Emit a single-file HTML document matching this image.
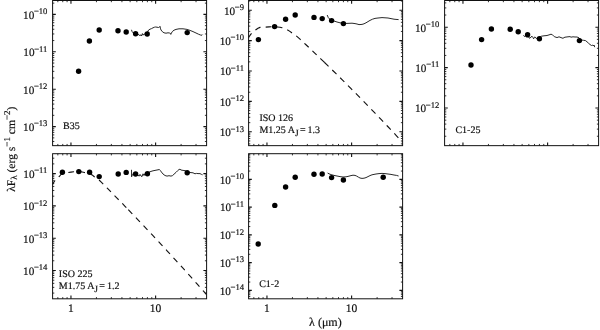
<!DOCTYPE html>
<html><head><meta charset="utf-8"><title>SED plots</title>
<style>text{stroke:#111;stroke-width:0.18px}html,body{margin:0;padding:0;background:#fff}body{width:600px;height:330px;position:relative;overflow:hidden}</style>
</head><body>
<svg width="600" height="330" viewBox="0 0 600 330" style="position:absolute;left:0;top:0;font-family:'Liberation Serif',serif;text-rendering:geometricPrecision" fill="#111">
<rect x="52.6" y="0.5" width="154" height="145.15" fill="none" stroke="#111" stroke-width="1"/>
<path d="M52.6 3.14h1.7M206.6 3.14h-1.7M52.6 40.54h1.7M206.6 40.54h-1.7M52.6 33.96h1.7M206.6 33.96h-1.7M52.6 29.28h1.7M206.6 29.28h-1.7M52.6 25.66h1.7M206.6 25.66h-1.7M52.6 22.7h1.7M206.6 22.7h-1.7M52.6 20.19h1.7M206.6 20.19h-1.7M52.6 18.02h1.7M206.6 18.02h-1.7M52.6 16.11h1.7M206.6 16.11h-1.7M52.6 77.94h1.7M206.6 77.94h-1.7M52.6 71.36h1.7M206.6 71.36h-1.7M52.6 66.68h1.7M206.6 66.68h-1.7M52.6 63.06h1.7M206.6 63.06h-1.7M52.6 60.1h1.7M206.6 60.1h-1.7M52.6 57.59h1.7M206.6 57.59h-1.7M52.6 55.42h1.7M206.6 55.42h-1.7M52.6 53.51h1.7M206.6 53.51h-1.7M52.6 115.34h1.7M206.6 115.34h-1.7M52.6 108.76h1.7M206.6 108.76h-1.7M52.6 104.08h1.7M206.6 104.08h-1.7M52.6 100.46h1.7M206.6 100.46h-1.7M52.6 97.5h1.7M206.6 97.5h-1.7M52.6 94.99h1.7M206.6 94.99h-1.7M52.6 92.82h1.7M206.6 92.82h-1.7M52.6 90.91h1.7M206.6 90.91h-1.7M52.6 141.48h1.7M206.6 141.48h-1.7M52.6 137.86h1.7M206.6 137.86h-1.7M52.6 134.9h1.7M206.6 134.9h-1.7M52.6 132.39h1.7M206.6 132.39h-1.7M52.6 130.22h1.7M206.6 130.22h-1.7M52.6 128.31h1.7M206.6 128.31h-1.7M57.84 0.5v1.7M57.84 145.65v-1.7M62.75 0.5v1.7M62.75 145.65v-1.7M67.08 0.5v1.7M67.08 145.65v-1.7M96.44 0.5v1.7M96.44 145.65v-1.7M111.35 0.5v1.7M111.35 145.65v-1.7M121.93 0.5v1.7M121.93 145.65v-1.7M130.14 0.5v1.7M130.14 145.65v-1.7M136.84 0.5v1.7M136.84 145.65v-1.7M142.51 0.5v1.7M142.51 145.65v-1.7M147.42 0.5v1.7M147.42 145.65v-1.7M151.75 0.5v1.7M151.75 145.65v-1.7M181.11 0.5v1.7M181.11 145.65v-1.7M196.02 0.5v1.7M196.02 145.65v-1.7" fill="none" stroke="#111" stroke-width="0.85"/>
<path d="M52.6 14.4h3.2M206.6 14.4h-3.2M52.6 51.8h3.2M206.6 51.8h-3.2M52.6 89.2h3.2M206.6 89.2h-3.2M52.6 126.6h3.2M206.6 126.6h-3.2M70.96 0.5v3.2M70.96 145.65v-3.2M155.62 0.5v3.2M155.62 145.65v-3.2" fill="none" stroke="#111" stroke-width="1.1"/>
<text x="47.4" y="18.7" text-anchor="end" font-size="11.2">10<tspan dx="-0.3" dy="-4.6" font-size="8.6"><tspan style="stroke-width:0.35px">−</tspan>10</tspan></text>
<text x="47.4" y="56.1" text-anchor="end" font-size="11.2">10<tspan dx="-0.3" dy="-4.6" font-size="8.6"><tspan style="stroke-width:0.35px">−</tspan>11</tspan></text>
<text x="47.4" y="93.5" text-anchor="end" font-size="11.2">10<tspan dx="-0.3" dy="-4.6" font-size="8.6"><tspan style="stroke-width:0.35px">−</tspan>12</tspan></text>
<text x="47.4" y="130.9" text-anchor="end" font-size="11.2">10<tspan dx="-0.3" dy="-4.6" font-size="8.6"><tspan style="stroke-width:0.35px">−</tspan>13</tspan></text>
<polyline points="131.5,29.8 132,31.4 133,32.8 134.5,33.6 136,33.8 137,34.8 138,34.2 139,35 140,35.6 141,34.8 141.6,36 142.4,33.6 143,35 144,34.4 145.5,33.6 147,33 148,31 148.6,30 150,29.2 151.5,28.6 153,27.8 154.5,27.2 155.5,27 157,27.2 158.5,27.5 159.6,27 160,26.4 160.4,28.2 161,30 162.5,31.8 164,32.8 166,33.2 168,32.8 169.5,33 170.4,33.4 170.8,34.4 171.4,33 172.5,31.4 174,30.2 176,29.4 179,28.8 183,28.8 187,29.4 190,30.4 193,31.6 196,33 198.5,34.2 200.5,35 202,35.2 202.6,34.6" fill="none" stroke="#111" stroke-width="0.9" stroke-linejoin="round"/>
<circle cx="78.6" cy="71.2" r="2.7" fill="#000"/>
<circle cx="89.4" cy="41" r="2.7" fill="#000"/>
<circle cx="99.2" cy="30" r="2.7" fill="#000"/>
<circle cx="118" cy="30.8" r="2.7" fill="#000"/>
<circle cx="126.2" cy="32" r="2.7" fill="#000"/>
<circle cx="135.6" cy="33.8" r="2.7" fill="#000"/>
<circle cx="147.2" cy="34" r="2.7" fill="#000"/>
<circle cx="187.2" cy="32.6" r="2.7" fill="#000"/>
<text x="63" y="129" font-size="10">B35</text>
<rect x="52.6" y="153.7" width="154" height="145.1" fill="none" stroke="#111" stroke-width="1"/>
<path d="M52.6 163.88h1.7M206.6 163.88h-1.7M52.6 158.19h1.7M206.6 158.19h-1.7M52.6 196.18h1.7M206.6 196.18h-1.7M52.6 190.49h1.7M206.6 190.49h-1.7M52.6 186.45h1.7M206.6 186.45h-1.7M52.6 183.32h1.7M206.6 183.32h-1.7M52.6 180.77h1.7M206.6 180.77h-1.7M52.6 178.6h1.7M206.6 178.6h-1.7M52.6 176.73h1.7M206.6 176.73h-1.7M52.6 175.08h1.7M206.6 175.08h-1.7M52.6 228.48h1.7M206.6 228.48h-1.7M52.6 222.79h1.7M206.6 222.79h-1.7M52.6 218.75h1.7M206.6 218.75h-1.7M52.6 215.62h1.7M206.6 215.62h-1.7M52.6 213.07h1.7M206.6 213.07h-1.7M52.6 210.9h1.7M206.6 210.9h-1.7M52.6 209.03h1.7M206.6 209.03h-1.7M52.6 207.38h1.7M206.6 207.38h-1.7M52.6 260.78h1.7M206.6 260.78h-1.7M52.6 255.09h1.7M206.6 255.09h-1.7M52.6 251.05h1.7M206.6 251.05h-1.7M52.6 247.92h1.7M206.6 247.92h-1.7M52.6 245.37h1.7M206.6 245.37h-1.7M52.6 243.2h1.7M206.6 243.2h-1.7M52.6 241.33h1.7M206.6 241.33h-1.7M52.6 239.68h1.7M206.6 239.68h-1.7M52.6 293.08h1.7M206.6 293.08h-1.7M52.6 287.39h1.7M206.6 287.39h-1.7M52.6 283.35h1.7M206.6 283.35h-1.7M52.6 280.22h1.7M206.6 280.22h-1.7M52.6 277.67h1.7M206.6 277.67h-1.7M52.6 275.5h1.7M206.6 275.5h-1.7M52.6 273.63h1.7M206.6 273.63h-1.7M52.6 271.98h1.7M206.6 271.98h-1.7M57.84 153.7v1.7M57.84 298.8v-1.7M62.75 153.7v1.7M62.75 298.8v-1.7M67.08 153.7v1.7M67.08 298.8v-1.7M96.44 153.7v1.7M96.44 298.8v-1.7M111.35 153.7v1.7M111.35 298.8v-1.7M121.93 153.7v1.7M121.93 298.8v-1.7M130.14 153.7v1.7M130.14 298.8v-1.7M136.84 153.7v1.7M136.84 298.8v-1.7M142.51 153.7v1.7M142.51 298.8v-1.7M147.42 153.7v1.7M147.42 298.8v-1.7M151.75 153.7v1.7M151.75 298.8v-1.7M181.11 153.7v1.7M181.11 298.8v-1.7M196.02 153.7v1.7M196.02 298.8v-1.7" fill="none" stroke="#111" stroke-width="0.85"/>
<path d="M52.6 173.6h3.2M206.6 173.6h-3.2M52.6 205.9h3.2M206.6 205.9h-3.2M52.6 238.2h3.2M206.6 238.2h-3.2M52.6 270.5h3.2M206.6 270.5h-3.2M70.96 153.7v3.2M70.96 298.8v-3.2M155.62 153.7v3.2M155.62 298.8v-3.2" fill="none" stroke="#111" stroke-width="1.1"/>
<text x="47.4" y="177.9" text-anchor="end" font-size="11.2">10<tspan dx="-0.3" dy="-4.6" font-size="8.6"><tspan style="stroke-width:0.35px">−</tspan>11</tspan></text>
<text x="47.4" y="210.2" text-anchor="end" font-size="11.2">10<tspan dx="-0.3" dy="-4.6" font-size="8.6"><tspan style="stroke-width:0.35px">−</tspan>12</tspan></text>
<text x="47.4" y="242.5" text-anchor="end" font-size="11.2">10<tspan dx="-0.3" dy="-4.6" font-size="8.6"><tspan style="stroke-width:0.35px">−</tspan>13</tspan></text>
<text x="47.4" y="274.8" text-anchor="end" font-size="11.2">10<tspan dx="-0.3" dy="-4.6" font-size="8.6"><tspan style="stroke-width:0.35px">−</tspan>14</tspan></text>
<text x="70.96" y="312" text-anchor="middle" font-size="11.5">1</text>
<text x="155.62" y="312" text-anchor="middle" font-size="11.5">10</text>
<polyline points="52.6,184.5 53.8,182.2 55,180.5 57,178.4 59.2,176.5 61,174.4 62.5,173.6 64,173.1 66,172.8 68.2,172.5 71,172.1 73.8,171.8 76,171.6 78,171.6 81,171.8 84.5,172.5 88,173.2 91,174.2 92.5,175.2 94,176.5 96.5,178.3 99,179.93 101,181.93 103,183.93 105,185.93 107,187.94 109,189.96 111,191.98 113,194 115,196.03 117,198.07 119,200.11 121,202.16 123,204.21 125,206.27 127,208.33" fill="none" stroke="#111" stroke-width="1.12" stroke-dasharray="5.8 5.2" stroke-dashoffset="1.1"/>
<polyline points="128.3,209.68 131.3,212.79 134.3,215.91 137.3,219.04 140.3,222.18 143.3,225.34 146.3,228.51 149.3,231.69 152.3,234.88 155.3,238.09 158.3,241.3 161.3,244.53 164.3,247.77 167.3,251.02 170.3,254.28 173.3,257.56 176.3,260.85 179.3,264.14 182.3,267.46 185.3,270.78 188.3,274.11 191.3,277.46 194.3,280.82 197.3,284.19 200.3,287.57 203.3,290.96 206.3,294.37 206.4,294.48" fill="none" stroke="#111" stroke-width="1.12" stroke-dasharray="5.8 5.2" stroke-dashoffset="0"/>
<polyline points="131.5,169.8 131.6,176.8 132.4,174.6 133.5,173.2 135,174.6 136.5,175 138,175 139,176.2 140,174.4 141,176 142,176.6 143,173.8 144,175.6 145,173.4 146,174 147,173 149,172.2 151,171.4 153,170.8 155,170.4 157,170 159.4,169.5 160.4,170.6 161.4,172 163,174 165,175.5 167,176.1 169,175.7 171,176.1 172.5,175.6 174,174.2 176,172.4 177.5,170.8 179,169.5 180,169.2 181,170 183,170.4 185,170.6 187,171.6 189,172.4 191,172.6 193,172.8 195,173.8 196.5,173.4 198,173.6 200,173.6 201.5,174.4 202.6,174.8" fill="none" stroke="#111" stroke-width="0.9" stroke-linejoin="round"/>
<circle cx="62.4" cy="172.2" r="2.7" fill="#000"/>
<circle cx="78.8" cy="171.6" r="2.7" fill="#000"/>
<circle cx="89.6" cy="172.2" r="2.7" fill="#000"/>
<circle cx="99.2" cy="176.6" r="2.7" fill="#000"/>
<circle cx="118.2" cy="174" r="2.7" fill="#000"/>
<circle cx="126.2" cy="172.4" r="2.7" fill="#000"/>
<circle cx="135.6" cy="174" r="2.7" fill="#000"/>
<circle cx="147.4" cy="173.8" r="2.7" fill="#000"/>
<circle cx="187.2" cy="172.8" r="2.7" fill="#000"/>
<text x="58.8" y="276.6" font-size="10">ISO 225</text>
<text x="58.8" y="289.3" font-size="10">M1.75 A<tspan dy="2.6" font-size="9.6">J</tspan><tspan dx="-0.8" dy="-2.6"> = 1.2</tspan></text>
<rect x="248.6" y="0.5" width="154" height="145.15" fill="none" stroke="#111" stroke-width="1"/>
<path d="M248.6 1.05h1.7M402.6 1.05h-1.7M248.6 31.45h1.7M402.6 31.45h-1.7M248.6 26.1h1.7M402.6 26.1h-1.7M248.6 22.3h1.7M402.6 22.3h-1.7M248.6 19.35h1.7M402.6 19.35h-1.7M248.6 16.94h1.7M402.6 16.94h-1.7M248.6 14.91h1.7M402.6 14.91h-1.7M248.6 13.15h1.7M402.6 13.15h-1.7M248.6 11.59h1.7M402.6 11.59h-1.7M248.6 61.85h1.7M402.6 61.85h-1.7M248.6 56.5h1.7M402.6 56.5h-1.7M248.6 52.7h1.7M402.6 52.7h-1.7M248.6 49.75h1.7M402.6 49.75h-1.7M248.6 47.34h1.7M402.6 47.34h-1.7M248.6 45.31h1.7M402.6 45.31h-1.7M248.6 43.55h1.7M402.6 43.55h-1.7M248.6 41.99h1.7M402.6 41.99h-1.7M248.6 92.25h1.7M402.6 92.25h-1.7M248.6 86.9h1.7M402.6 86.9h-1.7M248.6 83.1h1.7M402.6 83.1h-1.7M248.6 80.15h1.7M402.6 80.15h-1.7M248.6 77.74h1.7M402.6 77.74h-1.7M248.6 75.71h1.7M402.6 75.71h-1.7M248.6 73.95h1.7M402.6 73.95h-1.7M248.6 72.39h1.7M402.6 72.39h-1.7M248.6 122.65h1.7M402.6 122.65h-1.7M248.6 117.3h1.7M402.6 117.3h-1.7M248.6 113.5h1.7M402.6 113.5h-1.7M248.6 110.55h1.7M402.6 110.55h-1.7M248.6 108.14h1.7M402.6 108.14h-1.7M248.6 106.11h1.7M402.6 106.11h-1.7M248.6 104.35h1.7M402.6 104.35h-1.7M248.6 102.79h1.7M402.6 102.79h-1.7M248.6 143.9h1.7M402.6 143.9h-1.7M248.6 140.95h1.7M402.6 140.95h-1.7M248.6 138.54h1.7M402.6 138.54h-1.7M248.6 136.51h1.7M402.6 136.51h-1.7M248.6 134.75h1.7M402.6 134.75h-1.7M248.6 133.19h1.7M402.6 133.19h-1.7M253.84 0.5v1.7M253.84 145.65v-1.7M258.75 0.5v1.7M258.75 145.65v-1.7M263.08 0.5v1.7M263.08 145.65v-1.7M292.44 0.5v1.7M292.44 145.65v-1.7M307.35 0.5v1.7M307.35 145.65v-1.7M317.93 0.5v1.7M317.93 145.65v-1.7M326.14 0.5v1.7M326.14 145.65v-1.7M332.84 0.5v1.7M332.84 145.65v-1.7M338.51 0.5v1.7M338.51 145.65v-1.7M343.42 0.5v1.7M343.42 145.65v-1.7M347.75 0.5v1.7M347.75 145.65v-1.7M377.11 0.5v1.7M377.11 145.65v-1.7M392.02 0.5v1.7M392.02 145.65v-1.7" fill="none" stroke="#111" stroke-width="0.85"/>
<path d="M248.6 10.2h3.2M402.6 10.2h-3.2M248.6 40.6h3.2M402.6 40.6h-3.2M248.6 71h3.2M402.6 71h-3.2M248.6 101.4h3.2M402.6 101.4h-3.2M248.6 131.8h3.2M402.6 131.8h-3.2M266.96 0.5v3.2M266.96 145.65v-3.2M351.62 0.5v3.2M351.62 145.65v-3.2" fill="none" stroke="#111" stroke-width="1.1"/>
<text x="244" y="14.5" text-anchor="end" font-size="11.2">10<tspan dx="-0.3" dy="-4.6" font-size="8.6"><tspan style="stroke-width:0.35px">−</tspan>9</tspan></text>
<text x="244" y="44.9" text-anchor="end" font-size="11.2">10<tspan dx="-0.3" dy="-4.6" font-size="8.6"><tspan style="stroke-width:0.35px">−</tspan>10</tspan></text>
<text x="244" y="75.3" text-anchor="end" font-size="11.2">10<tspan dx="-0.3" dy="-4.6" font-size="8.6"><tspan style="stroke-width:0.35px">−</tspan>11</tspan></text>
<text x="244" y="105.7" text-anchor="end" font-size="11.2">10<tspan dx="-0.3" dy="-4.6" font-size="8.6"><tspan style="stroke-width:0.35px">−</tspan>12</tspan></text>
<text x="244" y="136.1" text-anchor="end" font-size="11.2">10<tspan dx="-0.3" dy="-4.6" font-size="8.6"><tspan style="stroke-width:0.35px">−</tspan>13</tspan></text>
<polyline points="248.6,37.5 250,35.4 251.5,33.5 253.5,31.6 255.5,30 258,28.2 260,27.4 263,27.2 265.5,27.1 269,26.9 272,26.7 275,26.8 277.5,27 280,27.3 282,27.7 285,28.6 287,29.5 289.5,31.1 291.8,32.8 294,34.3 296,35.7 298,37.4 300,39.12 303,41.93 306,44.75 309,47.58 312,50.43 315,53.29 318,56.16 321,59.05 324,61.94 324.3,62.23" fill="none" stroke="#111" stroke-width="1.12" stroke-dasharray="5.8 5.2" stroke-dashoffset="0.8"/>
<polyline points="324.3,62.23 327.3,65.15 330.3,68.07 333.3,71 336.3,73.95 339.3,76.91 342.3,79.89 345.3,82.87 348.3,85.87 351.3,88.88 354.3,91.91 357.3,94.95 360.3,97.99 363.3,101.06 366.3,104.13 369.3,107.22 372.3,110.32 375.3,113.43 378.3,116.55 381.3,119.69 384.3,122.84 387.3,126 390.3,129.18 393.3,132.36 396.3,135.56 399.3,138.77 402.3,142 402.4,142.11" fill="none" stroke="#111" stroke-width="1.12" stroke-dasharray="5.9 5.2" stroke-dashoffset="0"/>
<polyline points="327.2,15 328.2,17.4 329,18.6 330.5,19.6 332,20.4 334,21 337,22 340,22.8 343,23.4 347,23.4 352,23.2 355,23.6 357,24 359,24.6 362,24.4 364,23.8 366,22.8 368,21.6 370,20.4 372.5,19.2 375,18.4 378,18 382,17.6 385,17.8 388,18 391,18.6 394,19.2 396,19.4 398.6,19.6" fill="none" stroke="#111" stroke-width="0.9" stroke-linejoin="round"/>
<circle cx="258.4" cy="39.6" r="2.7" fill="#000"/>
<circle cx="274.6" cy="26.6" r="2.7" fill="#000"/>
<circle cx="285.6" cy="19.2" r="2.7" fill="#000"/>
<circle cx="295.2" cy="15" r="2.7" fill="#000"/>
<circle cx="314" cy="17.4" r="2.7" fill="#000"/>
<circle cx="322.2" cy="18.6" r="2.7" fill="#000"/>
<circle cx="331.6" cy="20.6" r="2.7" fill="#000"/>
<circle cx="343.4" cy="23.6" r="2.7" fill="#000"/>
<text x="259.4" y="121" font-size="10">ISO 126</text>
<text x="259.4" y="133.4" font-size="10">M1.25 A<tspan dy="2.6" font-size="9.6">J</tspan><tspan dx="-0.8" dy="-2.6"> = 1.3</tspan></text>
<rect x="248.6" y="153.7" width="154" height="145.1" fill="none" stroke="#111" stroke-width="1"/>
<path d="M248.6 171.05h1.7M402.6 171.05h-1.7M248.6 166.16h1.7M402.6 166.16h-1.7M248.6 162.69h1.7M402.6 162.69h-1.7M248.6 160h1.7M402.6 160h-1.7M248.6 157.81h1.7M402.6 157.81h-1.7M248.6 155.95h1.7M402.6 155.95h-1.7M248.6 154.34h1.7M402.6 154.34h-1.7M248.6 198.8h1.7M402.6 198.8h-1.7M248.6 193.91h1.7M402.6 193.91h-1.7M248.6 190.44h1.7M402.6 190.44h-1.7M248.6 187.75h1.7M402.6 187.75h-1.7M248.6 185.56h1.7M402.6 185.56h-1.7M248.6 183.7h1.7M402.6 183.7h-1.7M248.6 182.09h1.7M402.6 182.09h-1.7M248.6 180.67h1.7M402.6 180.67h-1.7M248.6 226.55h1.7M402.6 226.55h-1.7M248.6 221.66h1.7M402.6 221.66h-1.7M248.6 218.19h1.7M402.6 218.19h-1.7M248.6 215.5h1.7M402.6 215.5h-1.7M248.6 213.31h1.7M402.6 213.31h-1.7M248.6 211.45h1.7M402.6 211.45h-1.7M248.6 209.84h1.7M402.6 209.84h-1.7M248.6 208.42h1.7M402.6 208.42h-1.7M248.6 254.3h1.7M402.6 254.3h-1.7M248.6 249.41h1.7M402.6 249.41h-1.7M248.6 245.94h1.7M402.6 245.94h-1.7M248.6 243.25h1.7M402.6 243.25h-1.7M248.6 241.06h1.7M402.6 241.06h-1.7M248.6 239.2h1.7M402.6 239.2h-1.7M248.6 237.59h1.7M402.6 237.59h-1.7M248.6 236.17h1.7M402.6 236.17h-1.7M248.6 282.05h1.7M402.6 282.05h-1.7M248.6 277.16h1.7M402.6 277.16h-1.7M248.6 273.69h1.7M402.6 273.69h-1.7M248.6 271h1.7M402.6 271h-1.7M248.6 268.81h1.7M402.6 268.81h-1.7M248.6 266.95h1.7M402.6 266.95h-1.7M248.6 265.34h1.7M402.6 265.34h-1.7M248.6 263.92h1.7M402.6 263.92h-1.7M248.6 296.56h1.7M402.6 296.56h-1.7M248.6 294.7h1.7M402.6 294.7h-1.7M248.6 293.09h1.7M402.6 293.09h-1.7M248.6 291.67h1.7M402.6 291.67h-1.7M253.84 153.7v1.7M253.84 298.8v-1.7M258.75 153.7v1.7M258.75 298.8v-1.7M263.08 153.7v1.7M263.08 298.8v-1.7M292.44 153.7v1.7M292.44 298.8v-1.7M307.35 153.7v1.7M307.35 298.8v-1.7M317.93 153.7v1.7M317.93 298.8v-1.7M326.14 153.7v1.7M326.14 298.8v-1.7M332.84 153.7v1.7M332.84 298.8v-1.7M338.51 153.7v1.7M338.51 298.8v-1.7M343.42 153.7v1.7M343.42 298.8v-1.7M347.75 153.7v1.7M347.75 298.8v-1.7M377.11 153.7v1.7M377.11 298.8v-1.7M392.02 153.7v1.7M392.02 298.8v-1.7" fill="none" stroke="#111" stroke-width="0.85"/>
<path d="M248.6 179.4h3.2M402.6 179.4h-3.2M248.6 207.15h3.2M402.6 207.15h-3.2M248.6 234.9h3.2M402.6 234.9h-3.2M248.6 262.65h3.2M402.6 262.65h-3.2M248.6 290.4h3.2M402.6 290.4h-3.2M266.96 153.7v3.2M266.96 298.8v-3.2M351.62 153.7v3.2M351.62 298.8v-3.2" fill="none" stroke="#111" stroke-width="1.1"/>
<text x="244" y="183.7" text-anchor="end" font-size="11.2">10<tspan dx="-0.3" dy="-4.6" font-size="8.6"><tspan style="stroke-width:0.35px">−</tspan>10</tspan></text>
<text x="244" y="211.45" text-anchor="end" font-size="11.2">10<tspan dx="-0.3" dy="-4.6" font-size="8.6"><tspan style="stroke-width:0.35px">−</tspan>11</tspan></text>
<text x="244" y="239.2" text-anchor="end" font-size="11.2">10<tspan dx="-0.3" dy="-4.6" font-size="8.6"><tspan style="stroke-width:0.35px">−</tspan>12</tspan></text>
<text x="244" y="266.95" text-anchor="end" font-size="11.2">10<tspan dx="-0.3" dy="-4.6" font-size="8.6"><tspan style="stroke-width:0.35px">−</tspan>13</tspan></text>
<text x="244" y="294.7" text-anchor="end" font-size="11.2">10<tspan dx="-0.3" dy="-4.6" font-size="8.6"><tspan style="stroke-width:0.35px">−</tspan>14</tspan></text>
<text x="266.96" y="312" text-anchor="middle" font-size="11.5">1</text>
<text x="351.62" y="312" text-anchor="middle" font-size="11.5">10</text>
<polyline points="327.6,173 329,173.8 331,174.6 334,175.4 337,176 340,176.6 343,177 346,176.8 348,176.4 351,175.6 353,175.2 355,175.4 356.5,176 358.5,177.2 360,178 362,178.4 364,178.2 366,177.6 368,176.6 370,175.6 372,174.8 374,174.4 376,174 379,173.6 382,173.4 385,173.6 388,174 391,174.4 394,175 396.5,175.4 398.6,176" fill="none" stroke="#111" stroke-width="0.9" stroke-linejoin="round"/>
<circle cx="258.2" cy="244" r="2.7" fill="#000"/>
<circle cx="274.8" cy="205.4" r="2.7" fill="#000"/>
<circle cx="285.6" cy="187" r="2.7" fill="#000"/>
<circle cx="295.2" cy="177.2" r="2.7" fill="#000"/>
<circle cx="314" cy="174.2" r="2.7" fill="#000"/>
<circle cx="322.2" cy="174" r="2.7" fill="#000"/>
<circle cx="331.6" cy="177.6" r="2.7" fill="#000"/>
<circle cx="343.4" cy="180" r="2.7" fill="#000"/>
<circle cx="383.2" cy="177.2" r="2.7" fill="#000"/>
<text x="259.2" y="286.6" font-size="10">C1-2</text>
<rect x="444.6" y="0.5" width="154" height="145.15" fill="none" stroke="#111" stroke-width="1"/>
<path d="M444.6 15.04h1.7M598.6 15.04h-1.7M444.6 7.92h1.7M598.6 7.92h-1.7M444.6 2.88h1.7M598.6 2.88h-1.7M444.6 55.44h1.7M598.6 55.44h-1.7M444.6 48.32h1.7M598.6 48.32h-1.7M444.6 43.28h1.7M598.6 43.28h-1.7M444.6 39.36h1.7M598.6 39.36h-1.7M444.6 36.16h1.7M598.6 36.16h-1.7M444.6 33.46h1.7M598.6 33.46h-1.7M444.6 31.12h1.7M598.6 31.12h-1.7M444.6 29.05h1.7M598.6 29.05h-1.7M444.6 95.84h1.7M598.6 95.84h-1.7M444.6 88.72h1.7M598.6 88.72h-1.7M444.6 83.68h1.7M598.6 83.68h-1.7M444.6 79.76h1.7M598.6 79.76h-1.7M444.6 76.56h1.7M598.6 76.56h-1.7M444.6 73.86h1.7M598.6 73.86h-1.7M444.6 71.52h1.7M598.6 71.52h-1.7M444.6 69.45h1.7M598.6 69.45h-1.7M444.6 136.24h1.7M598.6 136.24h-1.7M444.6 129.12h1.7M598.6 129.12h-1.7M444.6 124.08h1.7M598.6 124.08h-1.7M444.6 120.16h1.7M598.6 120.16h-1.7M444.6 116.96h1.7M598.6 116.96h-1.7M444.6 114.26h1.7M598.6 114.26h-1.7M444.6 111.92h1.7M598.6 111.92h-1.7M444.6 109.85h1.7M598.6 109.85h-1.7M449.84 0.5v1.7M449.84 145.65v-1.7M454.75 0.5v1.7M454.75 145.65v-1.7M459.08 0.5v1.7M459.08 145.65v-1.7M488.44 0.5v1.7M488.44 145.65v-1.7M503.35 0.5v1.7M503.35 145.65v-1.7M513.93 0.5v1.7M513.93 145.65v-1.7M522.14 0.5v1.7M522.14 145.65v-1.7M528.84 0.5v1.7M528.84 145.65v-1.7M534.51 0.5v1.7M534.51 145.65v-1.7M539.42 0.5v1.7M539.42 145.65v-1.7M543.75 0.5v1.7M543.75 145.65v-1.7M573.11 0.5v1.7M573.11 145.65v-1.7M588.02 0.5v1.7M588.02 145.65v-1.7" fill="none" stroke="#111" stroke-width="0.85"/>
<path d="M444.6 27.2h3.2M598.6 27.2h-3.2M444.6 67.6h3.2M598.6 67.6h-3.2M444.6 108h3.2M598.6 108h-3.2M462.96 0.5v3.2M462.96 145.65v-3.2M547.62 0.5v3.2M547.62 145.65v-3.2" fill="none" stroke="#111" stroke-width="1.1"/>
<text x="439.3" y="31.5" text-anchor="end" font-size="11.2">10<tspan dx="-0.3" dy="-4.6" font-size="8.6"><tspan style="stroke-width:0.35px">−</tspan>10</tspan></text>
<text x="439.3" y="71.9" text-anchor="end" font-size="11.2">10<tspan dx="-0.3" dy="-4.6" font-size="8.6"><tspan style="stroke-width:0.35px">−</tspan>11</tspan></text>
<text x="439.3" y="112.3" text-anchor="end" font-size="11.2">10<tspan dx="-0.3" dy="-4.6" font-size="8.6"><tspan style="stroke-width:0.35px">−</tspan>12</tspan></text>
<polyline points="523.5,35.2 524.5,36.6 525.5,35.6 526.5,37 528,36.4 529,37.8 530,38.2 531,37 532,36.2 533,37.6 533.6,38.8 534.4,37.4 535,36.8 536,38 536.6,38.8 537.6,37.8 539,37.4 541.5,36.2 544,35.8 547,35.5 549,34.9 551,34.2 552.5,34.8 553.5,35.8 554.5,36.8 556,37.2 557,37.6 559,36.8 560,37.2 561,37.6 563,38.3 564,37.6 565,37.2 568,36.8 570,36.6 571,37.2 573,36.8 575,37 577,37 579,37.8 580,39 581.5,40 583.5,40.3 585.5,40.6 587,41.8 588.5,43.2 590,44.5 591.5,45.5 592.5,45 593.4,46 594,45 594.7,47.2" fill="none" stroke="#111" stroke-width="0.9" stroke-linejoin="round"/>
<circle cx="471" cy="65" r="2.7" fill="#000"/>
<circle cx="481.6" cy="39.6" r="2.7" fill="#000"/>
<circle cx="491.4" cy="29" r="2.7" fill="#000"/>
<circle cx="510.2" cy="29.2" r="2.7" fill="#000"/>
<circle cx="518.2" cy="31.7" r="2.7" fill="#000"/>
<circle cx="527.6" cy="34.8" r="2.7" fill="#000"/>
<circle cx="539.4" cy="38.8" r="2.7" fill="#000"/>
<circle cx="579.4" cy="40.6" r="2.7" fill="#000"/>
<text x="455.4" y="133" font-size="10">C1-25</text>
<text x="325.4" y="326.4" text-anchor="middle" font-size="12">λ (μm)</text>
<text transform="translate(14.8,149.2) rotate(-90)" text-anchor="middle" font-size="11.6">λF<tspan dy="2.4" font-size="9">λ</tspan><tspan dy="-2.4"> (erg s</tspan><tspan dy="-4.8" font-size="9">−1</tspan><tspan dy="4.8"> cm</tspan><tspan dy="-4.8" font-size="9">−2</tspan><tspan dy="4.8">)</tspan></text>
</svg>
</body></html>
